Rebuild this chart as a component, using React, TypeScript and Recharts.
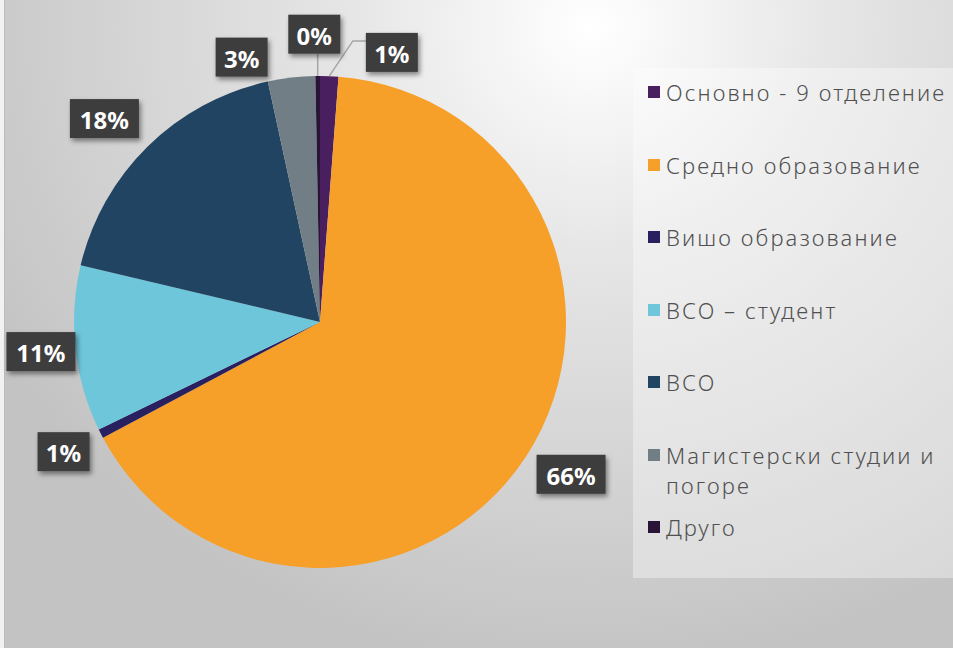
import React from 'react';
import { PieChart, Pie, Cell, Legend } from 'recharts';

const categories = [
  'Основно - 9 отделение',
  'Средно образование',
  'Вишо образование',
  'ВСО – студент',
  'ВСО',
  'Магистерски студии и погоре',
  'Друго',
];
const values = [1.2, 66.0, 0.6, 10.9, 17.9, 3.1, 0.3];
const colors = ['#4a1f60', '#f69f29', '#29205f', '#6ec6da', '#204462', '#717e85', '#291438'];

// label layout tweaks (like Excel "best fit" moves for crowded labels)
const labelNudgeX = [61, 10, 0, 7, -14, -45, -3];
const labelNudgeY = [18, -5, -1, -2, 2, 21, 0];
const leaderLine = [true, false, false, false, false, false, true];

const data = categories.map((name, i) => ({ name, value: values[i] }));

const RAD = Math.PI / 180;

const renderLabel = (props: any) => {
  const { cx, cy, midAngle, outerRadius, percent, index } = props;
  const cos = Math.cos(-midAngle * RAD);
  const sin = Math.sin(-midAngle * RAD);
  const r = outerRadius * 1.17;
  const bx = cx + r * cos + labelNudgeX[index];
  const by = cy + r * sin + labelNudgeY[index];
  const text = `${Math.round(percent * 100)}%`;
  const w = 35 + 17 * (text.length - 1);
  const h = 39;
  const left = bx - w / 2;
  const top = by - h / 2;
  let line: React.ReactNode = null;
  if (leaderLine[index]) {
    const ax = cx + outerRadius * cos;
    const ay = cy + outerRadius * sin;
    let d: string;
    if (ax < left) {
      d = `M${ax},${ay} L${left - 13},${top + 8} L${left},${top + 8}`;
    } else {
      d = `M${ax},${ay} L${ax},${top + h}`;
    }
    line = <path d={d} stroke="#a6a6a6" strokeWidth={1.5} fill="none" />;
  }
  return (
    <g key={`lbl-${index}`}>
      {line}
      <rect x={left} y={top} width={w} height={h} fill="#3c3c3c" filter="url(#lblShadow)" />
      <text
        x={bx}
        y={by + 1}
        fill="#ffffff"
        textAnchor="middle"
        dominantBaseline="central"
        fontFamily="'Noto Sans', sans-serif"
        fontWeight={700}
        fontSize={24}
      >
        {text}
      </text>
    </g>
  );
};

const renderLegend = () => {
  return (
    <div style={{ position: 'relative', width: 320, height: 510, background: 'rgba(255,255,255,0.36)' }}>
      {categories.map((name, i) => (
        <div
          key={`leg-${i}`}
          style={{
            position: 'absolute',
            left: 15,
            top: 9 + i * 72.5,
            display: 'flex',
            alignItems: 'flex-start',
          }}
        >
          <span
            style={{
              display: 'inline-block',
              width: 12,
              height: 12,
              marginTop: 9,
              background: colors[i],
              flex: '0 0 auto',
            }}
          />
          <span
            style={{
              marginLeft: 6,
              width: 288,
              fontFamily: "'Noto Sans', sans-serif",
              fontWeight: 300,
              fontSize: 22,
              letterSpacing: 2.1,
              lineHeight: '30px',
              color: '#505050',
            }}
          >
            {name}
          </span>
        </div>
      ))}
    </div>
  );
};

export default function App() {
  return (
    <div
      style={{
        position: 'absolute',
        left: 0,
        top: 0,
        width: 953,
        height: 648,
        background: 'radial-gradient(ellipse 72% 100% at 62% 4%, #ffffff 0%, #e6e6e6 35%, #c3c3c3 100%)',
        overflow: 'hidden',
      }}
    >
      <div style={{ position: 'absolute', left: 0, top: 0, width: 4, height: 648, background: '#f2f2f2', borderRight: '1px solid #bcbcbc' }} />
      <PieChart width={953} height={648} margin={{ top: 0, right: 0, bottom: 0, left: 0 }}>
        <defs>
          <filter id="lblShadow" x="-20%" y="-20%" width="150%" height="160%">
            <feDropShadow dx={2} dy={3} stdDeviation={2.5} floodColor="#000000" floodOpacity={0.45} />
          </filter>
        </defs>
        <Pie
          data={data}
          dataKey="value"
          nameKey="name"
          cx={320}
          cy={322}
          outerRadius={246}
          startAngle={90}
          endAngle={-270}
          stroke="none"
          label={renderLabel}
          labelLine={false}
          isAnimationActive={false}
        >
          {data.map((d, i) => (
            <Cell key={`c-${i}`} fill={colors[i]} />
          ))}
        </Pie>
        <Legend
          layout="vertical"
          align="right"
          verticalAlign="top"
          content={renderLegend}
          wrapperStyle={{ left: 633, top: 68, width: 320, height: 510 }}
        />
      </PieChart>
    </div>
  );
}
